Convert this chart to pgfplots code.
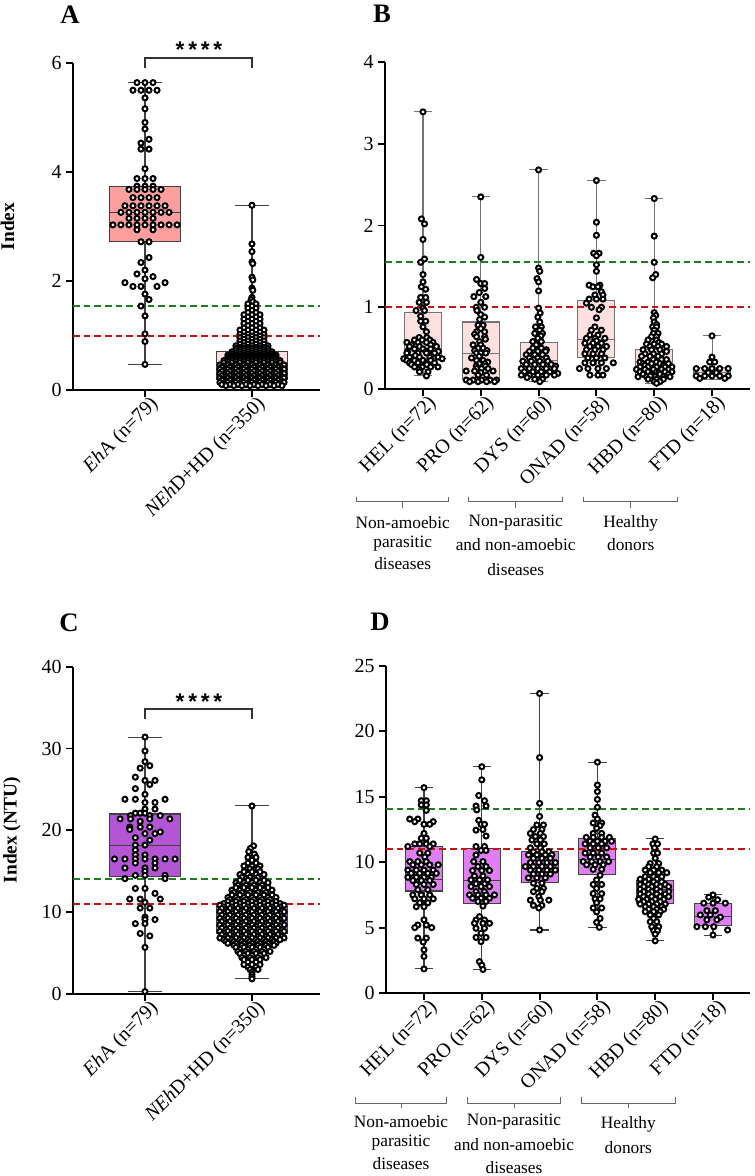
\documentclass[border=0pt]{standalone}
\usepackage{fontspec}
\setmainfont{Liberation Serif}
\newfontfamily\sansb{Liberation Sans}
\usepackage{pgfplots}
\pgfplotsset{compat=1.18}
\usepgfplotslibrary{statistics}
\definecolor{boxA}{HTML}{FF9E9E}
\definecolor{boxB}{HTML}{FFE0E0}
\definecolor{boxC}{HTML}{B455D6}
\definecolor{boxD}{HTML}{E07EF4}
\definecolor{boxCn}{HTML}{D27CF2}
\definecolor{cutG}{HTML}{1E7D1E}
\definecolor{cutR}{HTML}{C41414}
\pgfplotsset{
 boxplot/draw direction=y,
 panel/.style={scale only axis, axis lines=left, axis line style={-, line width=1.6pt},
   tick style={black, line width=1.4pt}, major tick length=5pt, tick align=outside,
   ymin=0, clip=false, enlargelimits=false,
   tick label style={font=\fontsize{15}{17}\selectfont},
   /pgf/number format/assume math mode=true,
   xticklabel style={rotate=45, anchor=north east, inner sep=1pt, xshift=4pt},
   ylabel style={font=\fontsize{14.5}{16}\selectfont\bfseries, anchor=center}},
 dots/.style={only marks, mark=*, mark size=1.9pt, mark options={fill=white, draw=black, line width=1.5pt}},
 cut/.style={line width=1.5pt, dash pattern=on 5pt off 3pt},
}
\begin{document}
\begin{tikzpicture}
\path[use as bounding box] (0,0) rectangle (565.5pt,-882pt);

%================ A =================
\begin{axis}[panel, at={(54.75pt,-292.5pt)}, anchor=south west, width=185.25pt, height=245.25pt,
  xmin=-0.673, xmax=1.636, ymax=6, ytick={0,2,4,6}, xtick={0,1},
  xticklabels={{\textit{Eh}A (n=79)},{\textit{NEh}D+HD (n=350)}},
  ylabel={Index}, ylabel style={at={(axis description cs:-0.265,0.5)}}]
\addplot[draw=black!75, fill=boxA, line width=0.8pt, boxplot prepared={draw position=0, lower whisker=0.47, lower quartile=2.73, median=3.26, upper quartile=3.74, upper whisker=5.64, box extend=0.66, whisker extend=0.32}] coordinates {};
\addplot[draw=black!75, fill=boxB, line width=0.8pt, boxplot prepared={draw position=1, lower whisker=0.07, lower quartile=0.20, median=0.36, upper quartile=0.70, upper whisker=3.39, box extend=0.66, whisker extend=0.32}] coordinates {};
\addplot[dots, x filter/.expression={0+0.075*x}] coordinates {
(-1,5.64)(0,5.64)(1,5.64)(-1.5,5.50)(-0.5,5.50)(0.5,5.50)(1.5,5.50)
(0,5.36)(0,5.16)(0,4.91)(0,4.79)(0.5,4.60)(-0.5,4.53)(-0.5,4.42)(0.5,4.42)(0,4.06)
(-1,3.88)(0,3.88)(1,3.88)(-1,3.74)(0,3.74)(1,3.74)
(-2,3.68)(-1,3.68)(0,3.68)(1,3.68)(2,3.68)
(-1.5,3.53)(-0.5,3.53)(0.5,3.53)(1.5,3.53)
(-2.5,3.38)(-1.5,3.38)(-0.5,3.38)(0.5,3.38)(1.5,3.38)(2.5,3.38)
(-3,3.26)(-2,3.26)(-1,3.26)(0,3.26)(1,3.26)(2,3.26)(3,3.26)
(-2,3.15)(-1,3.15)(0,3.15)(1,3.15)
(-4,3.03)(-3,3.03)(-2,3.03)(-1,3.03)(0,3.03)(1,3.03)(2,3.03)(3,3.03)(4,3.03)
(-1,2.94)(1,2.94)(-0.5,2.72)(0.5,2.72)
(0.5,2.43)(-0.5,2.34)(0,2.20)(-1,2.13)(1,2.08)(0,2.04)(-2.5,1.97)(2.5,1.97)(-1.5,1.90)(-0.5,1.90)(1.5,1.90)
(0,1.76)(0.5,1.66)(-0.5,1.54)(0,1.36)(0,1.03)(0,0.89)(0,0.47)};
\addplot[dots, x filter/.expression={1+0.075*x}] coordinates {
(0,3.39)(0,2.68)(0,2.54)(0,2.35)(0.1,2.32)(0,2.07)(0.1,2.02)(0,1.87)(0.1,1.83)(0,1.70)(-0.1,1.66)(0.1,1.62)
(-0.5,1.58)(0.5,1.58)(0,1.54)(-0.5,1.50)(0.5,1.50)(0,1.46)(-0.5,1.42)(0.5,1.42)(-1,1.38)(0,1.38)(1,1.38)
(-0.5,1.34)(0.5,1.34)(-1,1.30)(0,1.30)(1,1.30)(-0.5,1.26)(0.5,1.26)(-1,1.22)(0,1.22)(1,1.22)
(-0.5,1.18)(0.5,1.18)(-1,1.14)(0,1.14)(1,1.14)(-1.5,1.10)(-0.5,1.10)(0.5,1.10)(1.5,1.10)
(-1,1.06)(0,1.06)(1,1.06)(-1.5,1.02)(-0.5,1.02)(0.5,1.02)(1.5,1.02)(-1,0.99)(0,0.99)(1,0.99)
(-1.5,0.96)(-0.5,0.96)(0.5,0.96)(1.5,0.96)(-1,0.93)(0,0.93)(1,0.93)
(-1.5,0.90)(-0.5,0.90)(0.5,0.90)(1.5,0.90)(-1,0.87)(0,0.87)(1,0.87)
(-1.5,0.84)(-0.5,0.84)(0.5,0.84)(1.5,0.84)(-2,0.81)(-1,0.81)(0,0.81)(1,0.81)(2,0.81)
(-1.5,0.78)(-0.5,0.78)(0.5,0.78)(1.5,0.78)(-2,0.76)(-1,0.76)(0,0.76)(1,0.76)(2,0.76)
(-1.5,0.74)(-0.5,0.74)(0.5,0.74)(1.5,0.74)(-2,0.72)(-1,0.72)(0,0.72)(1,0.72)(2,0.72)
(-2.5,0.70)(-1.5,0.70)(-0.5,0.70)(0.5,0.70)(1.5,0.70)(2.5,0.70)(-2,0.68)(-1,0.68)(0,0.68)(1,0.68)(2,0.68)
(-2.5,0.66)(-1.5,0.66)(-0.5,0.66)(0.5,0.66)(1.5,0.66)(2.5,0.66)(-3,0.64)(-2,0.64)(-1,0.64)(0,0.64)(1,0.64)(2,0.64)(3,0.64)
(-2.5,0.62)(-1.5,0.62)(-0.5,0.62)(0.5,0.62)(1.5,0.62)(2.5,0.62)(-3,0.60)(-2,0.60)(-1,0.60)(0,0.60)(1,0.60)(2,0.60)(3,0.60)
(-2.5,0.58)(-1.5,0.58)(-0.5,0.58)(0.5,0.58)(1.5,0.58)(2.5,0.58)(-3,0.56)(-2,0.56)(-1,0.56)(0,0.56)(1,0.56)(2,0.56)(3,0.56)
(-3.5,0.54)(-2.5,0.54)(-1.5,0.54)(-0.5,0.54)(0.5,0.54)(1.5,0.54)(2.5,0.54)(3.5,0.54)
(-3,0.52)(-2,0.52)(-1,0.52)(0,0.52)(1,0.52)(2,0.52)(3,0.52)
(-3.5,0.50)(-2.5,0.50)(-1.5,0.50)(-0.5,0.50)(0.5,0.50)(1.5,0.50)(2.5,0.50)(3.5,0.50)
(-3,0.48)(-2,0.48)(-1,0.48)(0,0.48)(1,0.48)(2,0.48)(3,0.48)
(-4,0.46)(-3,0.46)(-2,0.46)(-1,0.46)(0,0.46)(1,0.46)(2,0.46)(3,0.46)(4,0.46)
(-3.5,0.44)(-2.5,0.44)(-1.5,0.44)(-0.5,0.44)(0.5,0.44)(1.5,0.44)(2.5,0.44)(3.5,0.44)
(-3.75,0.42)(-2.75,0.42)(-1.75,0.42)(-0.75,0.42)(0.25,0.42)(1.25,0.42)(2.25,0.42)(3.25,0.42)
(-3.25,0.40)(-2.25,0.40)(-1.25,0.40)(-0.25,0.40)(0.75,0.40)(1.75,0.40)(2.75,0.40)(3.75,0.40)
(-4,0.38)(-3,0.38)(-2,0.38)(-1,0.38)(0,0.38)(1,0.38)(2,0.38)(3,0.38)(4,0.38)
(-3.5,0.36)(-2.5,0.36)(-1.5,0.36)(-0.5,0.36)(0.5,0.36)(1.5,0.36)(2.5,0.36)(3.5,0.36)
(-3.75,0.34)(-2.75,0.34)(-1.75,0.34)(-0.75,0.34)(0.25,0.34)(1.25,0.34)(2.25,0.34)(3.25,0.34)
(-3.25,0.32)(-2.25,0.32)(-1.25,0.32)(-0.25,0.32)(0.75,0.32)(1.75,0.32)(2.75,0.32)(3.75,0.32)
(-4,0.30)(-3,0.30)(-2,0.30)(-1,0.30)(0,0.30)(1,0.30)(2,0.30)(3,0.30)(4,0.30)
(-3.5,0.28)(-2.5,0.28)(-1.5,0.28)(-0.5,0.28)(0.5,0.28)(1.5,0.28)(2.5,0.28)(3.5,0.28)
(-3.75,0.26)(-2.75,0.26)(-1.75,0.26)(-0.75,0.26)(0.25,0.26)(1.25,0.26)(2.25,0.26)(3.25,0.26)
(-3.25,0.24)(-2.25,0.24)(-1.25,0.24)(-0.25,0.24)(0.75,0.24)(1.75,0.24)(2.75,0.24)(3.75,0.24)
(-4,0.22)(-3,0.22)(-2,0.22)(-1,0.22)(0,0.22)(1,0.22)(2,0.22)(3,0.22)(4,0.22)
(-3.5,0.20)(-2.5,0.20)(-1.5,0.20)(-0.5,0.20)(0.5,0.20)(1.5,0.20)(2.5,0.20)(3.5,0.20)
(-3.75,0.18)(-2.75,0.18)(-1.75,0.18)(-0.75,0.18)(0.25,0.18)(1.25,0.18)(2.25,0.18)(3.25,0.18)
(-3.25,0.16)(-2.25,0.16)(-1.25,0.16)(-0.25,0.16)(0.75,0.16)(1.75,0.16)(2.75,0.16)(3.75,0.16)
(-4,0.14)(-3,0.14)(-2,0.14)(-1,0.14)(0,0.14)(1,0.14)(2,0.14)(3,0.14)(4,0.14)
(-3.5,0.12)(-2.5,0.12)(-1.5,0.12)(-0.5,0.12)(0.5,0.12)(1.5,0.12)(2.5,0.12)(3.5,0.12)
(-3.75,0.10)(-2.75,0.10)(-1.75,0.10)(-0.75,0.10)(0.25,0.10)(1.25,0.10)(2.25,0.10)(3.25,0.10)
(-3.25,0.08)(-2.25,0.08)(-1.25,0.08)(-0.25,0.08)(0.75,0.08)(1.75,0.08)(2.75,0.08)(3.75,0.08)};
\addplot[cut, cutG] coordinates {(-0.673,1.55) (1.636,1.55)};
\addplot[cut, cutR] coordinates {(-0.673,1.0) (1.636,1.0)};
\end{axis}

%================ B =================
\begin{axis}[panel, at={(288.75pt,-291.75pt)}, anchor=south west, width=273.75pt, height=245.25pt,
  xmin=-0.657, xmax=5.657, ymax=4, ytick={0,1,2,3,4}, xtick={0,1,2,3,4,5},
  xticklabels={HEL (n=72), PRO (n=62), DYS (n=60), ONAD (n=58), HBD (n=80), FTD (n=18)}]
\addplot[draw=black!55, fill=boxB, line width=0.8pt, boxplot prepared={draw position=0, lower whisker=0.16, lower quartile=0.375, median=0.50, upper quartile=0.94, upper whisker=3.39, box extend=0.64, whisker extend=0.32}] coordinates {};
\addplot[draw=black!55, fill=boxB, line width=0.8pt, boxplot prepared={draw position=1, lower whisker=0.08, lower quartile=0.12, median=0.43, upper quartile=0.82, upper whisker=2.35, box extend=0.64, whisker extend=0.32}] coordinates {};
\addplot[draw=black!55, fill=boxB, line width=0.8pt, boxplot prepared={draw position=2, lower whisker=0.09, lower quartile=0.20, median=0.35, upper quartile=0.57, upper whisker=2.68, box extend=0.64, whisker extend=0.32}] coordinates {};
\addplot[draw=black!55, fill=boxB, line width=0.8pt, boxplot prepared={draw position=3, lower whisker=0.17, lower quartile=0.38, median=0.61, upper quartile=1.08, upper whisker=2.55, box extend=0.64, whisker extend=0.32}] coordinates {};
\addplot[draw=black!55, fill=boxB, line width=0.8pt, boxplot prepared={draw position=4, lower whisker=0.07, lower quartile=0.17, median=0.29, upper quartile=0.485, upper whisker=2.33, box extend=0.64, whisker extend=0.32}] coordinates {};
\addplot[draw=black!55, fill=boxB, line width=0.8pt, boxplot prepared={draw position=5, lower whisker=0.12, lower quartile=0.155, median=0.20, upper quartile=0.265, upper whisker=0.65, box extend=0.64, whisker extend=0.32}] coordinates {};
\addplot[dots, x filter/.expression={0+0.133*x}] coordinates {
(0,3.39)(-0.2,2.08)(0.2,2.02)(0,1.83)(0.2,1.59)(-0.3,1.55)(0,1.40)(0,1.31)(-0.2,1.25)(0.35,1.22)
(-0.3,1.12)(0.35,1.12)(-0.5,1.06)(0.45,1.06)(0,0.99)(-0.9,0.96)(0.2,0.96)(-0.3,0.89)(-0.3,0.83)(0.35,0.83)(0,0.76)(0.45,0.70)
(-0.5,0.63)(0.5,0.63)(-1.1,0.60)(-0.1,0.60)(0.9,0.60)(-2.1,0.57)(-0.65,0.57)(0.45,0.57)(1.3,0.57)
(-1.5,0.54)(1.0,0.54)(-1.75,0.52)(-0.45,0.52)(1.75,0.52)(-1.1,0.49)(0,0.49)(1.0,0.49)
(-2,0.46)(0.4,0.46)(2,0.46)(-2.1,0.44)(-0.65,0.44)(0.45,0.44)(1.5,0.44)(-1,0.41)(1,0.41)
(-1.75,0.39)(-0.45,0.39)(0.9,0.39)(1.95,0.39)(-2.5,0.37)(2.5,0.37)
(-2.1,0.35)(-1.1,0.35)(0,0.35)(1.0,0.35)(-1.75,0.32)(-0.65,0.32)(0.45,0.32)(1.5,0.32)
(-1.5,0.30)(0.5,0.30)(-1.1,0.27)(-0.1,0.27)(1.0,0.27)(1.95,0.27)(-0.5,0.24)(-0.45,0.21)(0.65,0.21)(0.45,0.16)};
\addplot[dots, x filter/.expression={1+0.133*x}] coordinates {
(0,2.35)(0,1.61)(-0.55,1.34)(0,1.29)(0.5,1.29)(0.5,1.23)(-0.2,1.18)(-0.9,1.13)(0.65,1.13)(0,1.06)
(-0.6,1.00)(0.5,1.00)(-0.5,0.96)(0,0.91)(0.5,0.88)(-0.15,0.85)(-0.35,0.78)(0.3,0.78)(0,0.74)(-0.55,0.70)(0.5,0.70)
(-0.8,0.67)(-0.55,0.64)(0.5,0.64)(0.6,0.61)(-0.15,0.58)(0,0.54)(-1,0.54)(-0.35,0.50)(0.3,0.50)(-0.8,0.47)(0.8,0.47)
(-0.55,0.44)(0,0.44)(0.65,0.44)(-0.2,0.40)(-1.2,0.38)(-0.55,0.35)(0.3,0.35)(0.9,0.33)(-0.2,0.31)(0.5,0.31)(-0.6,0.28)(0.6,0.28)
(-0.55,0.25)(0.1,0.25)(0.95,0.25)(-1.9,0.22)(-0.8,0.22)(1.6,0.22)(0,0.20)(-0.35,0.17)(0.75,0.17)
(-1.9,0.11)(-1.0,0.11)(0.1,0.11)(1.2,0.11)(2.05,0.11)(-1.45,0.09)(-0.35,0.09)(0.75,0.09)(1.8,0.09)};
\addplot[dots, x filter/.expression={2+0.133*x}] coordinates {
(0,2.68)(0,1.48)(0.15,1.44)(-0.2,1.35)(0,1.31)(0,1.20)(0,0.99)(0.2,0.93)(-0.1,0.88)(0.15,0.82)
(-0.4,0.76)(0.35,0.76)(0.15,0.72)(-0.5,0.68)(0.5,0.68)(0.3,0.65)(-0.1,0.62)(-0.75,0.58)(0.35,0.58)(-0.3,0.54)
(-0.75,0.50)(0.35,0.50)(1.0,0.48)(-1.2,0.46)(-0.1,0.46)(0.9,0.46)(-1.6,0.42)(-0.5,0.42)(0.5,0.42)
(-1.2,0.38)(-0.1,0.38)(1.0,0.38)(-2.05,0.34)(-0.95,0.34)(0.15,0.34)(1.2,0.34)(-1.6,0.30)(-0.5,0.30)(0.55,0.30)(1.65,0.30)(2.2,0.28)
(-2.25,0.25)(-1.2,0.25)(-0.1,0.25)(1.0,0.25)(2.05,0.25)(-1.85,0.21)(-0.75,0.21)(0.35,0.21)(1.45,0.21)(2.5,0.19)
(-2.25,0.17)(-1.2,0.17)(-0.1,0.17)(1.0,0.17)(2.05,0.17)(-1.5,0.14)(-0.5,0.12)(0.5,0.12)(0.15,0.09)};
\addplot[dots, x filter/.expression={3+0.133*x}] coordinates {
(0,2.55)(0,2.04)(0,1.88)(-0.35,1.66)(0.35,1.66)(0,1.63)(0,1.52)(0,1.44)(-0.95,1.27)(0.45,1.27)(-0.45,1.25)(0.2,1.25)
(0.65,1.19)(-0.2,1.15)(0.85,1.15)(-0.95,1.10)(0,1.10)(0.85,1.10)(-1.3,1.05)(-0.65,1.00)(0.65,1.00)(0.35,0.97)(0,0.87)(-0.2,0.76)
(-0.65,0.72)(0.65,0.72)(-0.85,0.66)(0.2,0.66)(-1.3,0.62)(-0.2,0.62)(1.1,0.62)(0,0.59)(-1.5,0.56)(-0.45,0.56)(0.65,0.56)
(-0.85,0.52)(0.2,0.52)(1.3,0.52)(-1.3,0.48)(-0.2,0.48)(0.85,0.48)(-1.5,0.43)(-0.45,0.43)(0.65,0.43)(-1.1,0.38)(0,0.38)(1.1,0.38)
(-1.5,0.32)(-0.45,0.32)(0.65,0.32)(2.2,0.32)(-2.2,0.25)(-1.1,0.25)(0.2,0.25)(1.3,0.25)(-0.85,0.17)(0.2,0.17)(0.85,0.17)};
\addplot[dots, x filter/.expression={4+0.133*x}] coordinates {
(0,2.33)(0,1.87)(0,1.55)(0.2,1.40)(-0.2,1.36)(0,0.935)(0.2,0.90)(-0.1,0.87)(0,0.82)(0.3,0.79)
(-0.2,0.76)(0.3,0.76)(0,0.72)(-0.1,0.68)(0.5,0.68)(-0.35,0.64)(0.3,0.64)(-0.8,0.60)(0.3,0.60)(0.6,0.57)
(-1,0.55)(0,0.55)(0.95,0.55)(-0.55,0.52)(0.5,0.52)(1.6,0.52)(-1.45,0.48)(-0.35,0.48)(0.75,0.48)(1.6,0.46)
(-1.2,0.43)(-0.1,0.43)(0.95,0.43)(-1.65,0.40)(-0.55,0.40)(0.5,0.40)(-0.1,0.36)(0.95,0.36)(1.6,0.36)
(-1.85,0.33)(-0.8,0.33)(0.3,0.33)(-1.45,0.31)(-0.35,0.31)(0.75,0.31)(1.85,0.31)(-1.2,0.29)(1.2,0.29)
(-1.85,0.27)(-0.8,0.27)(0.3,0.27)(1.4,0.27)(2.3,0.27)(-2.3,0.24)(-1.2,0.24)(-0.1,0.24)(0.95,0.24)(1.85,0.24)
(-1.85,0.21)(-0.8,0.21)(0.3,0.21)(1.4,0.21)(2.3,0.21)(0.6,0.20)(-1.45,0.18)(-0.35,0.18)(0.75,0.18)(1.85,0.18)
(-2.1,0.15)(-1.0,0.15)(0.1,0.15)(1.2,0.15)(2.05,0.15)(-0.5,0.16)(-0.8,0.12)(0.3,0.12)(1.2,0.12)(0,0.09)(0.75,0.09)(0.3,0.07)};
\addplot[dots, x filter/.expression={5+0.133*x}] coordinates {
(0,0.65)(0,0.39)(-0.3,0.33)(0.35,0.33)(-2.05,0.25)(-0.95,0.25)(0,0.25)(1.0,0.25)(2.1,0.25)(-0.5,0.20)(0.55,0.20)
(-2.05,0.16)(-0.95,0.16)(0,0.16)(1.0,0.16)(2.1,0.16)(-1.6,0.13)(1.65,0.13)};
\addplot[cut, cutG] coordinates {(-0.657,1.55) (5.657,1.55)};
\addplot[cut, cutR] coordinates {(-0.657,1.0) (5.657,1.0)};
\end{axis}

%================ C =================
\begin{axis}[panel, at={(54.75pt,-745.5pt)}, anchor=south west, width=185.25pt, height=245.5pt,
  xmin=-0.673, xmax=1.636, ymax=40, ytick={0,10,20,30,40}, xtick={0,1},
  xticklabels={{\textit{Eh}A (n=79)},{\textit{NEh}D+HD (n=350)}},
  ylabel={Index (NTU)}, ylabel style={at={(axis description cs:-0.247,0.5)}}]
\addplot[draw=black!75, fill=boxC, line width=0.8pt, boxplot prepared={draw position=0, lower whisker=0.3, lower quartile=14.4, median=18.2, upper quartile=22.0, upper whisker=31.4, box extend=0.66, whisker extend=0.32}] coordinates {};
\addplot[draw=black!75, fill=boxCn, line width=0.8pt, boxplot prepared={draw position=1, lower whisker=1.85, lower quartile=7.4, median=9.0, upper quartile=10.67, upper whisker=22.98, box extend=0.66, whisker extend=0.32}] coordinates {};
\addplot[dots, x filter/.expression={0+0.075*x}] coordinates {
(0,31.4)(0,29.7)(0,28.4)(0.6,27.9)(-0.6,27.6)(-1.2,26.5)(0,26.1)(1.25,26.1)(0.6,25.6)(-1.2,25.1)(0,24.4)
(-2.5,23.8)(-1.2,23.8)(2.5,23.8)(0,23.4)(1.25,23.4)(0,22.6)(1.25,22.6)(-1.2,22.1)(-0.6,22.1)(0,22.1)
(-1.8,21.8)(0.6,21.8)(1.9,21.8)(-3.1,21.4)(-1.8,21.4)(0.6,21.4)(3.1,21.4)(-0.6,21.1)(-1.9,20.4)(-0.6,20.4)(0.6,20.4)
(-1.9,20.1)(1.9,19.8)(0,19.6)(1.25,19.6)(-1.2,19.1)(0.6,18.8)(-1.2,18.2)(0,18.2)(-1.2,17.6)(-1.2,17.0)(0,17.0)
(-3.8,16.5)(-2.5,16.5)(-1.2,16.5)(0,16.5)(1.25,16.5)(2.5,16.5)(3.75,16.5)(-1.2,16.0)(1.25,16.0)
(-2.5,15.4)(0,15.4)(1.25,15.4)(0,15.0)(-1.2,14.5)(0,14.5)(2.5,14.5)
(-2.5,14.1)(2.5,14.1)(-1.2,12.9)(0,12.9)(1.25,12.3)(-1.9,11.6)(-0.6,11.6)(1.9,11.6)(0,11.2)(-0.6,10.5)(0.6,10.5)
(0,9.4)(0,9.1)(1.25,9.1)(-1.2,8.6)(0,8.6)(-0.6,7.4)(0.6,7.1)(0,5.7)(0,0.3)};
\addplot[dots, x filter/.expression={1+0.075*x}] coordinates {
(0,22.98)(0.2,18.1)(-0.2,17.8)(-0.4,17.4)(0.3,17.1)
(-0.5,16.7)(0.5,16.7)(0,16.35)(-0.5,16.0)(0.5,16.0)(-1,15.65)(0,15.65)(1,15.65)(-0.25,15.3)(0.75,15.3)
(-1,14.95)(0,14.95)(1,14.95)(-1.5,14.6)(-0.5,14.6)(0.5,14.6)(1.5,14.6)(-1.25,14.25)(-0.25,14.25)(0.75,14.25)
(-1.5,13.9)(-0.5,13.9)(0.5,13.9)(1.5,13.9)(-2,13.6)(-1,13.6)(0,13.6)(1,13.6)(2,13.6)
(-1.75,13.3)(-0.75,13.3)(0.25,13.3)(1.25,13.3)(-2,13.0)(-1,13.0)(0,13.0)(1,13.0)(2,13.0)
(-2.5,12.7)(-1.5,12.7)(-0.5,12.7)(0.5,12.7)(1.5,12.7)(2.5,12.7)(-2.25,12.4)(-1.25,12.4)(-0.25,12.4)(0.75,12.4)(1.75,12.4)
(-2.5,12.1)(-1.5,12.1)(-0.5,12.1)(0.5,12.1)(1.5,12.1)(2.5,12.1)(-3,11.8)(-2,11.8)(-1,11.8)(0,11.8)(1,11.8)(2,11.8)(3,11.8)
(-2.75,11.55)(-1.75,11.55)(-0.75,11.55)(0.25,11.55)(1.25,11.55)(2.25,11.55)(-3,11.3)(-2,11.3)(-1,11.3)(0,11.3)(1,11.3)(2,11.3)(3,11.3)
(-3.5,11.05)(-2.5,11.05)(-1.5,11.05)(-0.5,11.05)(0.5,11.05)(1.5,11.05)(2.5,11.05)(3.5,11.05)
(-4,10.85)(-3,10.85)(-2,10.85)(-1,10.85)(0,10.85)(1,10.85)(2,10.85)(3,10.85)(4,10.85)
(-3.5,10.65)(-2.5,10.65)(-1.5,10.65)(-0.5,10.65)(0.5,10.65)(1.5,10.65)(2.5,10.65)(3.5,10.65)
(-3.75,10.45)(-2.75,10.45)(-1.75,10.45)(-0.75,10.45)(0.25,10.45)(1.25,10.45)(2.25,10.45)(3.25,10.45)
(-3.25,10.25)(-2.25,10.25)(-1.25,10.25)(-0.25,10.25)(0.75,10.25)(1.75,10.25)(2.75,10.25)(3.75,10.25)
(-4,10.05)(-3,10.05)(-2,10.05)(-1,10.05)(0,10.05)(1,10.05)(2,10.05)(3,10.05)(4,10.05)
(-3.5,9.85)(-2.5,9.85)(-1.5,9.85)(-0.5,9.85)(0.5,9.85)(1.5,9.85)(2.5,9.85)(3.5,9.85)
(-3.75,9.65)(-2.75,9.65)(-1.75,9.65)(-0.75,9.65)(0.25,9.65)(1.25,9.65)(2.25,9.65)(3.25,9.65)
(-3.25,9.45)(-2.25,9.45)(-1.25,9.45)(-0.25,9.45)(0.75,9.45)(1.75,9.45)(2.75,9.45)(3.75,9.45)
(-4,9.25)(-3,9.25)(-2,9.25)(-1,9.25)(0,9.25)(1,9.25)(2,9.25)(3,9.25)(4,9.25)
(-3.5,9.05)(-2.5,9.05)(-1.5,9.05)(-0.5,9.05)(0.5,9.05)(1.5,9.05)(2.5,9.05)(3.5,9.05)
(-3.75,8.85)(-2.75,8.85)(-1.75,8.85)(-0.75,8.85)(0.25,8.85)(1.25,8.85)(2.25,8.85)(3.25,8.85)
(-3.25,8.65)(-2.25,8.65)(-1.25,8.65)(-0.25,8.65)(0.75,8.65)(1.75,8.65)(2.75,8.65)(3.75,8.65)
(-4,8.45)(-3,8.45)(-2,8.45)(-1,8.45)(0,8.45)(1,8.45)(2,8.45)(3,8.45)(4,8.45)
(-3.5,8.25)(-2.5,8.25)(-1.5,8.25)(-0.5,8.25)(0.5,8.25)(1.5,8.25)(2.5,8.25)(3.5,8.25)
(-3.75,8.05)(-2.75,8.05)(-1.75,8.05)(-0.75,8.05)(0.25,8.05)(1.25,8.05)(2.25,8.05)(3.25,8.05)
(-3.25,7.85)(-2.25,7.85)(-1.25,7.85)(-0.25,7.85)(0.75,7.85)(1.75,7.85)(2.75,7.85)(3.75,7.85)
(-4,7.65)(-3,7.65)(-2,7.65)(-1,7.65)(0,7.65)(1,7.65)(2,7.65)(3,7.65)(4,7.65)
(-3.5,7.45)(-2.5,7.45)(-1.5,7.45)(-0.5,7.45)(0.5,7.45)(1.5,7.45)(2.5,7.45)(3.5,7.45)
(-3.75,7.25)(-2.75,7.25)(-1.75,7.25)(-0.75,7.25)(0.25,7.25)(1.25,7.25)(2.25,7.25)(3.25,7.25)
(-3.25,7.05)(-2.25,7.05)(-1.25,7.05)(-0.25,7.05)(0.75,7.05)(1.75,7.05)(2.75,7.05)(3.75,7.05)
(-4,6.85)(-3,6.85)(-2,6.85)(-1,6.85)(0,6.85)(1,6.85)(2,6.85)(3,6.85)(4,6.85)
(-3.5,6.65)(-2.5,6.65)(-1.5,6.65)(-0.5,6.65)(0.5,6.65)(1.5,6.65)(2.5,6.65)(3.5,6.65)
(-3.25,6.45)(-2.25,6.45)(-1.25,6.45)(-0.25,6.45)(0.75,6.45)(1.75,6.45)(2.75,6.45)
(-3,6.2)(-2,6.2)(-1,6.2)(0,6.2)(1,6.2)(2,6.2)(3,6.2)(-2.25,5.95)(-1.25,5.95)(-0.25,5.95)(0.75,5.95)(1.75,5.95)(2.75,5.95)
(-2,5.7)(-1,5.7)(0,5.7)(1,5.7)(2,5.7)(-1.5,5.45)(-0.5,5.45)(0.5,5.45)(1.5,5.45)(-1.75,5.2)(-0.75,5.2)(0.25,5.2)(1.25,5.2)(2.25,5.2)
(-1.5,4.95)(-0.5,4.95)(0.5,4.95)(1.5,4.95)(-1,4.7)(0,4.7)(1,4.7)(-1.25,4.45)(-0.25,4.45)(0.75,4.45)(1.75,4.45)
(-1,4.2)(0,4.2)(1,4.2)(-0.5,3.9)(0.5,3.9)(-1,3.6)(0,3.6)(1,3.6)(-0.5,3.3)(0.5,3.3)(-0.25,3.0)(0.75,3.0)
(0,2.7)(0,2.4)(0,2.1)(0,1.85)};
\addplot[cut, cutG] coordinates {(-0.673,14.1) (1.636,14.1)};
\addplot[cut, cutR] coordinates {(-0.673,11.0) (1.636,11.0)};
\end{axis}

%================ D =================
\begin{axis}[panel, at={(289.5pt,-744.75pt)}, anchor=south west, width=273pt, height=245.25pt,
  xmin=-0.657, xmax=5.64, ymax=25, ytick={0,5,10,15,20,25}, xtick={0,1,2,3,4,5},
  xticklabels={HEL (n=72), PRO (n=62), DYS (n=60), ONAD (n=58), HBD (n=80), FTD (n=18)}]
\addplot[draw=black!75, fill=boxD, line width=0.8pt, boxplot prepared={draw position=0, lower whisker=1.84, lower quartile=7.8, median=8.7, upper quartile=11.2, upper whisker=15.7, box extend=0.64, whisker extend=0.32}] coordinates {};
\addplot[draw=black!75, fill=boxD, line width=0.8pt, boxplot prepared={draw position=1, lower whisker=1.8, lower quartile=6.86, median=8.57, upper quartile=11.07, upper whisker=17.3, box extend=0.64, whisker extend=0.32}] coordinates {};
\addplot[draw=black!75, fill=boxD, line width=0.8pt, boxplot prepared={draw position=2, lower whisker=4.82, lower quartile=8.47, median=9.54, upper quartile=10.8, upper whisker=22.9, box extend=0.64, whisker extend=0.32}] coordinates {};
\addplot[draw=black!75, fill=boxD, line width=0.8pt, boxplot prepared={draw position=3, lower whisker=5.02, lower quartile=9.03, median=10.23, upper quartile=11.83, upper whisker=17.65, box extend=0.64, whisker extend=0.32}] coordinates {};
\addplot[draw=black!75, fill=boxD, line width=0.8pt, boxplot prepared={draw position=4, lower whisker=3.99, lower quartile=6.81, median=7.9, upper quartile=8.6, upper whisker=11.78, box extend=0.64, whisker extend=0.32}] coordinates {};
\addplot[draw=black!75, fill=boxD, line width=0.8pt, boxplot prepared={draw position=5, lower whisker=4.43, lower quartile=5.13, median=5.84, upper quartile=6.87, upper whisker=7.5, box extend=0.64, whisker extend=0.32}] coordinates {};
\addplot[dots, x filter/.expression={0+0.133*x}] coordinates {
(0,15.7)(-0.35,14.7)(0.3,14.7)(-0.35,14.38)(0.3,14.38)(0.3,13.96)(-1.85,13.3)(-0.8,13.3)(-1.2,13.1)(1.2,13.1)(0,12.9)(0.75,12.9)
(0,12.2)(-0.35,11.83)(0.3,11.83)(-1.2,11.4)(-0.55,11.4)(0.3,11.4)(1.2,11.4)(-2.1,11.2)(0.75,11.2)
(-0.55,10.7)(0.5,10.7)(0.1,10.4)(-1.85,10.05)(-0.8,10.05)(0.3,10.05)(-1.45,9.8)(-0.35,9.8)(0.75,9.8)(1.85,9.8)
(-2.1,9.4)(-1.0,9.4)(0,9.4)(1.2,9.4)(-1.65,9.15)(-0.55,9.15)(0.5,9.15)(1.6,9.15)(-2.1,8.85)(-1.0,8.85)(0,8.85)(0.95,8.85)
(-1.45,8.6)(-0.35,8.6)(0.75,8.6)(-1.0,8.3)(0,8.3)(1.2,8.3)(-0.8,7.9)(0.5,7.9)(-1.45,7.5)(-0.35,7.5)(0.75,7.5)
(-1.2,7.2)(0,7.2)(1.2,7.2)(-0.55,6.9)(0.5,6.9)(-1.0,6.6)(0,6.6)
(0,5.6)(-0.8,5.2)(0.3,5.2)(-1.2,5.0)(1.0,5.0)(-0.8,4.2)(0.3,4.2)(-0.1,3.9)(0,3.3)(0,2.8)(0,1.84)};
\addplot[dots, x filter/.expression={1+0.133*x}] coordinates {
(0,17.3)(0,16.3)(-0.4,15.1)(0.35,14.7)(-0.75,14.3)(0.55,14.3)(-0.65,14.0)(-0.4,13.2)(-0.1,12.9)(0.35,12.9)(0.15,12.5)(-0.75,12.45)(0.55,12.0)
(-0.75,11.2)(0.35,11.2)(-0.1,10.9)(0.55,10.9)(-0.75,10.55)(-1.05,10.05)(0.15,10.05)(-0.5,9.67)(0.55,9.67)(-1.2,9.36)(0,9.36)(1.0,9.36)
(-0.95,8.95)(0.15,8.95)(-1.4,8.65)(-0.3,8.65)(0.75,8.65)(-0.75,8.35)(0.35,8.35)(-1.4,8.14)(-0.1,8.14)(1.0,8.14)(-0.75,7.75)(0.35,7.75)
(-1.6,7.5)(-0.5,7.5)(0.55,7.5)(1.65,7.5)(-1.2,7.25)(-0.1,7.25)(1.0,7.25)(-0.5,7.0)(0.55,7.0)(0.15,6.65)
(-0.3,5.84)(-0.75,5.58)(0.35,5.58)(-0.95,5.33)(0.15,5.33)(1.0,5.33)(-0.75,4.95)(0.35,4.95)(-0.1,4.57)(-0.75,4.25)(0.55,4.25)(-0.1,3.93)
(-0.3,2.4)(0,2.13)(0.15,1.8)};
\addplot[dots, x filter/.expression={2+0.133*x}] coordinates {
(0,22.9)(0,18.0)(0,14.5)(0,13.5)(-0.35,12.85)(0.5,12.85)(-0.8,12.5)(0.3,12.5)(-1.2,12.2)(0.1,12.2)(-0.55,11.96)(0.5,11.96)
(-1.0,11.7)(0.1,11.7)(-0.35,11.4)(0.6,11.4)(-1.2,11.1)(0.1,11.1)(-0.8,10.8)(0.3,10.8)(1.2,10.8)
(-1.45,10.56)(-0.35,10.56)(0.75,10.56)(1.6,10.56)(-0.8,10.3)(0.3,10.3)(1.4,10.3)(-1.2,9.97)(-0.1,9.97)(0.95,9.97)(2.05,9.97)
(-1.85,9.67)(-0.8,9.67)(0.3,9.67)(1.4,9.67)(-1.2,9.4)(-0.1,9.4)(0.95,9.4)(2.05,9.4)(-0.8,9.1)(0.3,9.1)(1.4,9.1)
(-1.45,8.8)(-0.35,8.8)(0.75,8.8)(-0.8,8.4)(0.3,8.4)(-0.35,8.0)(0.5,8.0)(-0.8,7.75)(0.3,7.75)(-0.1,7.37)
(-1.2,7.1)(0.1,7.1)(1.2,7.1)(-0.8,6.7)(0.3,6.7)(-0.1,6.5)(0,4.82)};
\addplot[dots, x filter/.expression={3+0.133*x}] coordinates {
(0,17.65)(0,15.9)(0,15.4)(0,14.8)(0,14.2)(-0.3,13.6)(0,13.3)(-0.55,13.0)(0.55,13.0)(0.35,12.8)(-0.1,12.6)(-0.55,12.2)(0.55,12.2)
(-1.45,11.9)(-0.55,11.9)(0.55,11.9)(1.55,11.9)
(-0.95,11.6)(0,11.6)(1.0,11.6)(1.85,11.6)(-1.6,11.4)(-0.55,11.4)(0.55,11.4)(-0.95,11.1)(0.1,11.1)(1.2,11.1)
(-1.6,10.7)(-0.55,10.7)(0.55,10.7)(-0.95,10.4)(0.1,10.4)(1.2,10.4)(-1.85,10.05)(-0.75,10.05)(0.35,10.05)(1.45,10.05)
(-1.4,9.8)(-0.3,9.8)(0.75,9.8)(-0.55,9.45)(0.55,9.45)
(0.35,9.0)(-0.1,8.65)(-0.55,8.3)(0.55,8.3)(-0.1,8.0)(-0.55,7.6)(0.55,7.6)(-0.3,7.2)(0.35,7.2)(-0.1,6.9)
(-0.55,6.5)(0.55,6.5)(-0.1,6.2)(0.35,5.7)(-0.1,5.4)(0.25,5.02)};
\addplot[dots, x filter/.expression={4+0.133*x}] coordinates {
(0,11.78)(-0.3,11.4)(0.3,11.4)(-0.1,11.1)(-0.2,10.7)(0.3,10.7)(0,10.3)(-0.65,9.9)(0.45,9.9)(-0.85,9.66)(0.2,9.66)
(-1.3,9.4)(-0.2,9.4)(0.85,9.4)(-0.65,9.2)(0.45,9.2)(1.5,9.2)(-1.3,8.9)(-0.2,8.9)(0.85,8.9)(-1.95,8.7)(-0.85,8.7)(0.2,8.7)
(-1.3,8.5)(-0.2,8.5)(0.85,8.5)(-1.95,8.3)(-0.85,8.3)(0.2,8.3)(1.3,8.3)(-1.5,8.13)(-0.45,8.13)(0.65,8.13)(1.75,8.13)
(-1.95,7.93)(-0.85,7.93)(0.2,7.93)(-1.5,7.75)(-0.45,7.75)(0.65,7.75)(1.75,7.75)(-1.95,7.57)(-0.85,7.57)(0.2,7.57)(1.3,7.57)
(-1.5,7.37)(-0.45,7.37)(0.65,7.37)(1.75,7.37)(-2.15,7.16)(-1.1,7.16)(0,7.16)(1.1,7.16)(-1.5,6.98)(-0.45,6.98)(0.65,6.98)
(-1.95,6.8)(-0.85,6.8)(0.2,6.8)(1.3,6.8)(-1.3,6.6)(-0.2,6.6)(0.85,6.6)(-0.85,6.4)(0.2,6.4)(1.1,6.4)
(-1.3,6.22)(-0.2,6.22)(0.65,6.22)(-0.65,5.97)(0.45,5.97)(-0.2,5.7)(-0.65,5.45)(0.2,5.45)(-0.45,5.07)(0.45,5.07)
(-0.2,4.77)(0.3,4.77)(0,4.5)(0,3.99)};
\addplot[dots, x filter/.expression={5+0.133*x}] coordinates {
(0,7.5)(-0.55,7.33)(0.6,7.13)(-1.2,6.87)(0,6.87)(1.6,6.87)(-0.8,6.3)(0.3,6.3)(-1.65,5.97)(-0.35,5.97)(0.95,5.8)
(-0.8,5.6)(0.5,5.6)(-2.1,5.07)(-1.0,5.07)(0.1,5.07)(1.9,4.82)(0,4.43)};
\addplot[cut, cutG] coordinates {(-0.657,14.1) (5.64,14.1)};
\addplot[cut, cutR] coordinates {(-0.657,11.0) (5.64,11.0)};
\end{axis}

%================ annotations =================
\begin{scope}[x=0.75pt, y=-0.75pt]
\node[font=\fontsize{20}{20}\selectfont\bfseries] at (70,15) {A};
\node[font=\fontsize{20}{20}\selectfont\bfseries] at (382,14) {B};
\node[font=\fontsize{20}{20}\selectfont\bfseries] at (69,623) {C};
\node[font=\fontsize{20}{20}\selectfont\bfseries] at (380,622) {D};
\draw[line width=0.8pt, black!80] (145,68) -- (145,58) -- (252,58) -- (252,68);
\node[font=\sansb\bfseries\fontsize{17}{17}\selectfont, anchor=base] at (199,58) {*\,*\,*\,*};
\draw[line width=0.8pt, black!80] (145,719) -- (145,709) -- (252,709) -- (252,719);
\node[font=\sansb\bfseries\fontsize{17}{17}\selectfont, anchor=base] at (199,709) {*\,*\,*\,*};
\begin{scope}[line width=0.7pt, black!60]
\draw (356,496.7) -- (356,501.7) -- (448,501.7) -- (448,496.7) (402.7,501.7) -- (402.7,508);
\draw (468,496.7) -- (468,501.7) -- (562,501.7) -- (562,496.7) (515.7,501.7) -- (515.7,508);
\draw (583,496.7) -- (583,501.7) -- (677,501.7) -- (677,496.7) (630.7,501.7) -- (630.7,508);
\draw (355,1096.7) -- (355,1103.3) -- (446,1103.3) -- (446,1096.7) (401,1103.3) -- (401,1108);
\draw (467,1096.7) -- (467,1103.3) -- (560,1103.3) -- (560,1096.7) (514,1103.3) -- (514,1108);
\draw (581.7,1096.7) -- (581.7,1103.3) -- (675,1103.3) -- (675,1096.7) (628.3,1103.3) -- (628.3,1108);
\end{scope}
\begin{scope}[every node/.style={font=\fontsize{13}{15}\selectfont, inner sep=0pt}]
\node at (402.7,523) {Non-amoebic};
\node at (402.7,544) {parasitic};
\node at (402.7,564) {diseases};
\node at (515.7,523) {Non-parasitic};
\node at (515.7,545) {and non-amoebic};
\node at (515.7,570) {diseases};
\node at (630.7,523) {Healthy};
\node at (630.7,545) {donors};
\node at (401,1121.7) {Non-amoebic};
\node at (401,1142.7) {parasitic};
\node at (401,1163.3) {diseases};
\node at (514,1121.7) {Non-parasitic};
\node at (514,1145) {and non-amoebic};
\node at (514,1168) {diseases};
\node at (628.3,1124) {Healthy};
\node at (628.3,1148) {donors};
\end{scope}
\end{scope}
\end{tikzpicture}
\end{document}
